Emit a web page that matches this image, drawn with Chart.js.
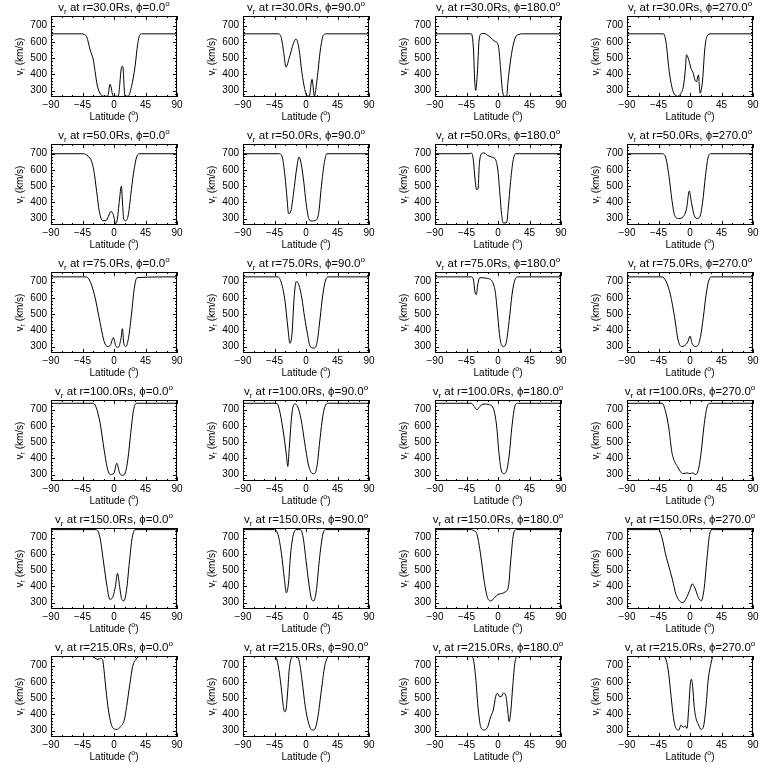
<!DOCTYPE html>
<html>
<head>
<meta charset="utf-8">
<script src="https://cdn.jsdelivr.net/npm/chart.js@4/dist/chart.umd.min.js"></script>
<style>
  body { margin: 0; background: #fff; }
  #grid { position: relative; width: 768px; height: 768px; }
  .cell { position: absolute; width: 192px; height: 128px; }
</style>
</head>
<body>
<div id="grid"></div>
<script>
const radii = [30, 50, 75, 100, 150, 215];
const phis = [0, 90, 180, 270];
const latTicks = [-90, -45, 0, 45, 90];
const vTicks = [300, 400, 500, 600, 700];

// [latitude, v_r] pairs
const r30_p0 = [[-90,650],[-46,650],[-42,645],[-39,632],[-34,550],[-29.5,488],[-27,416],[-24,334],[-20,283],[-15,265],[-9,265],[-5.7,338],[-1,265],[6,265],[11,447],[12.4,450],[15.7,265],[20,265],[25,324],[30,447],[34,591],[37,645],[41,650],[90,650]];
const r30_p90 = [[-90,650],[-39,650],[-35,620],[-32,540],[-28.6,445],[-24,500],[-18,590],[-14.3,618],[-10.5,570],[-5.7,406],[-2,313],[1.4,266],[4.7,266],[8.6,369],[12,266],[15.7,365],[20.5,550],[25,643],[30,650],[90,650]];
const r30_p180 = [[-90,650],[-38,650],[-35,550],[-33.3,365],[-32,300],[-29.5,406],[-27,612],[-24,650],[-20,652],[-15,643],[-8,616],[-3.4,601],[-1,595],[1.4,550],[3.8,427],[6,313],[8.6,265],[12.4,265],[14,344],[18,488],[22.8,601],[27.6,643],[37,650],[90,650]];
const r30_p270 = [[-90,650],[-38,650],[-34,591],[-30.5,447],[-27,344],[-23,283],[-17.6,265],[-13,283],[-9.5,324],[-6.7,427],[-5,520],[-2.4,499],[1.4,437],[4.7,406],[7,365],[9.5,355],[11,385],[12.4,396],[13,350],[14.7,283],[16,303],[18,365],[21,550],[24,632],[30,650],[90,650]];

const r50_p0 = [[-90,700],[-44,700],[-37,684],[-32,653],[-28.6,591],[-24.8,468],[-21,344],[-16,287],[-11.5,287],[-8,313],[-4.3,344],[-1,324],[2.4,268],[4.7,293],[7.6,406],[10.5,499],[12.4,380],[14,293],[17,287],[20.5,324],[24,447],[27.6,571],[32,674],[36,700],[90,700]];
const r50_p90 = [[-90,700],[-38,700],[-34,680],[-30,560],[-27,420],[-25,330],[-22,340],[-18,450],[-13,620],[-10,680],[-7,640],[-3,520],[0,400],[4,300],[8,285],[14,290],[18,330],[22,500],[26,640],[30,700],[90,700]];
const r50_p180 = [[-90,700],[-41.4,700],[-38,704],[-35,653],[-33,550],[-30.5,478],[-28.6,482],[-26.7,632],[-24,698],[-20,705],[-15,690],[-8,678],[-3.4,663],[0,591],[2.8,447],[5.2,324],[7.6,272],[12.4,276],[14.7,365],[18,530],[21.4,653],[25,700],[90,700]];
const r50_p270 = [[-90,700],[-40,700],[-35,680],[-30,560],[-26,420],[-22,320],[-16,300],[-10,310],[-5,360],[-1,470],[2,400],[6,320],[10,300],[14,310],[18,400],[22,560],[26,680],[30,700],[90,700]];

const r75_p0 = [[-90,730],[-40,730],[-35,710],[-28,620],[-20,450],[-14,330],[-9,300],[-5,310],[-1,355],[3,300],[6,295],[10,350],[12,410],[14,320],[17,300],[21,360],[25,500],[29,660],[33,725],[90,730]];
const r75_p90 = [[-90,730],[-40,730],[-35,690],[-30,580],[-26,420],[-23,320],[-20,380],[-17,600],[-14,700],[-11,690],[-6,600],[-2,480],[2,380],[6,300],[12,290],[16,330],[20,470],[24,620],[28,710],[32,730],[90,730]];
const r75_p180 = [[-90,730],[-38,730],[-35,710],[-33,640],[-31,620],[-29,680],[-26,725],[-15,720],[-8,700],[-4,640],[-1,520],[2,380],[5,310],[9,300],[12,330],[16,460],[20,620],[24,710],[28,730],[90,730]];
const r75_p270 = [[-90,730],[-40,730],[-34,700],[-28,620],[-22,480],[-17,340],[-12,300],[-8,305],[-3,330],[0,365],[3,320],[7,300],[11,305],[15,360],[19,480],[23,620],[27,710],[31,730],[90,730]];

const r100_p0 = [[-90,740],[-30,740],[-26,720],[-20,620],[-14,450],[-9,330],[-5,300],[0,310],[4,370],[8,310],[12,295],[16,310],[20,400],[24,560],[28,700],[32,740],[90,740]];
const r100_p90 = [[-90,740],[-42,740],[-38,700],[-33,580],[-28,420],[-26,350],[-24,460],[-20,680],[-16,735],[-12,720],[-7,640],[-2,500],[3,370],[8,310],[12,305],[16,360],[20,520],[24,660],[28,730],[32,740],[90,740]];
const r100_p180 = [[-90,740],[-38,740],[-34,720],[-30,700],[-26,720],[-20,735],[-12,730],[-6,700],[-2,600],[1,450],[4,340],[8,305],[12,320],[16,420],[20,600],[24,720],[28,740],[90,740]];
const r100_p270 = [[-90,740],[-40,740],[-35,690],[-30,580],[-26,440],[-22,380],[-18,350],[-14,320],[-10,305],[-4,310],[0,305],[4,310],[8,300],[12,330],[16,440],[20,600],[24,710],[28,740],[90,740]];

const r150_p0 = [[-90,750],[-25,750],[-20,700],[-15,550],[-10,400],[-6,320],[-2,330],[2,400],[5,480],[8,400],[11,320],[14,310],[18,380],[22,550],[26,700],[30,750],[90,750]];
const r150_p90 = [[-90,750],[-45,750],[-40,720],[-35,600],[-31,450],[-28,360],[-25,420],[-22,600],[-18,720],[-14,750],[-8,750],[-4,700],[0,560],[4,420],[8,320],[11,310],[15,380],[19,560],[24,720],[28,750],[90,750]];
const r150_p180 = [[-90,750],[-40,750],[-35,745],[-30,720],[-25,600],[-20,440],[-15,330],[-10,310],[-5,330],[0,350],[5,355],[10,365],[15,400],[18,550],[22,720],[26,750],[90,750]];
const r150_p270 = [[-90,750],[-45,750],[-40,700],[-35,600],[-30,520],[-25,440],[-20,350],[-15,310],[-10,300],[-5,330],[0,380],[3,415],[7,390],[12,330],[16,310],[20,380],[24,560],[28,720],[32,750],[90,750]];

const r215_p0 = [[-90,759],[-29.5,759],[-27,746],[-23,739],[-19,746],[-16,731],[-14.3,674],[-11.4,550],[-8,427],[-4.3,344],[-1,313],[3.8,307],[9.5,324],[14.7,365],[18,447],[22.8,591],[26.6,694],[31.4,739],[37,759],[90,759]];
const r215_p90 = [[-90,759],[-46,759],[-41.4,735],[-38,653],[-35,550],[-33,468],[-30.5,416],[-28.6,427],[-26,550],[-24,674],[-21,746],[-17.6,759],[-13,757],[-9.5,725],[-5.7,612],[-1,447],[3.8,344],[8.6,303],[12.4,307],[17,385],[22,550],[26.6,694],[32,756],[36,759],[90,759]];
const r215_p180 = [[-90,759],[-38,759],[-35,735],[-32,632],[-28.6,447],[-24.8,324],[-20,303],[-15,320],[-10.5,385],[-6.7,427],[-3.4,509],[-1,530],[2.4,509],[4.7,509],[7.6,530],[11,519],[13.3,447],[16,355],[18,406],[21.4,591],[24,715],[27.6,759],[90,759]];
const r215_p270 = [[-90,759],[-38,759],[-34,735],[-30.5,653],[-27,509],[-23.8,385],[-20,313],[-16,303],[-13,334],[-9.5,320],[-6.7,328],[-4.3,313],[-2,427],[0.5,591],[2,616],[3.8,571],[6,447],[8.6,375],[12.4,334],[15.7,307],[19,320],[22.8,447],[26,612],[30,715],[33,756],[37,759],[90,759]];

const panels = [
  [r30_p0, r30_p90, r30_p180, r30_p270],
  [r50_p0, r50_p90, r50_p180, r50_p270],
  [r75_p0, r75_p90, r75_p180, r75_p270],
  [r100_p0, r100_p90, r100_p180, r100_p270],
  [r150_p0, r150_p90, r150_p180, r150_p270],
  [r215_p0, r215_p90, r215_p180, r215_p270]
];

const FONT = '"Liberation Sans", "DejaVu Sans", sans-serif';

// draw a run of text pieces (normal / sub / sup), centred on cx
function drawRich(ctx, parts, cx, cy, size) {
  const small = Math.round(size * 0.7);
  let w = 0;
  parts.forEach(p => {
    ctx.font = `${p.s ? small : size}px ${FONT}`;
    p.w = ctx.measureText(p.t).width;
    w += p.w;
  });
  let x = cx - w / 2;
  parts.forEach(p => {
    ctx.font = `${p.s ? small : size}px ${FONT}`;
    const dy = p.s === 'sub' ? size * 0.3 : p.s === 'sup' ? -size * 0.4 : 0;
    ctx.fillText(p.t, x, cy + dy);
    x += p.w;
  });
}

// IDL style frame: box, inward ticks on all four sides, labels
const idlFrame = {
  id: 'idlFrame',
  afterDraw(chart, args, opts) {
    const { ctx, chartArea: a, scales: { x, y } } = chart;
    ctx.save();
    ctx.strokeStyle = '#000';
    ctx.fillStyle = '#000';
    ctx.lineWidth = 1;
    ctx.strokeRect(a.left + 0.5, a.top + 0.5, a.right - a.left - 1, a.bottom - a.top - 1);

    ctx.beginPath();
    for (let v = -90; v <= 90; v += 15) {
      const px = Math.round(x.getPixelForValue(v)) + 0.5;
      const len = latTicks.includes(v) ? 4 : 2;
      ctx.moveTo(px, a.bottom); ctx.lineTo(px, a.bottom - len);
      ctx.moveTo(px, a.top); ctx.lineTo(px, a.top + len);
    }
    for (let v = 280; v <= 760; v += 20) {
      const py = Math.round(y.getPixelForValue(v)) + 0.5;
      const len = vTicks.includes(v) ? 4 : 2;
      ctx.moveTo(a.left, py); ctx.lineTo(a.left + len, py);
      ctx.moveTo(a.right, py); ctx.lineTo(a.right - len, py);
    }
    ctx.stroke();

    ctx.font = `10px ${FONT}`;
    ctx.textBaseline = 'middle';
    ctx.textAlign = 'center';
    latTicks.forEach(v => ctx.fillText(String(v).replace('-', '\u2212'), x.getPixelForValue(v), a.bottom + 8));
    ctx.textAlign = 'right';
    vTicks.forEach(v => ctx.fillText(String(v), a.left - 4, y.getPixelForValue(v)));

    ctx.textAlign = 'left';
    const cx = (a.left + a.right) / 2;
    drawRich(ctx, [{ t: 'v' }, { t: 'r', s: 'sub' }, { t: ' at r=' + opts.r.toFixed(1) + 'Rs, \u03d5=' + opts.phi.toFixed(1) }, { t: 'o', s: 'sup' }], cx, 8, 11.5);
    drawRich(ctx, [{ t: 'Latitude (' }, { t: 'o', s: 'sup' }, { t: ')' }], cx, a.bottom + 20, 10);

    ctx.translate(20, (a.top + a.bottom) / 2);
    ctx.rotate(-Math.PI / 2);
    drawRich(ctx, [{ t: 'v' }, { t: 'r', s: 'sub' }, { t: ' (km/s)' }], 0, 0, 10);
    ctx.restore();
  }
};

const grid = document.getElementById('grid');
radii.forEach((r, row) => {
  phis.forEach((phi, col) => {
    const cell = document.createElement('div');
    cell.className = 'cell';
    cell.style.left = (col * 192) + 'px';
    cell.style.top = (row * 128) + 'px';
    const canvas = document.createElement('canvas');
    canvas.width = 192;
    canvas.height = 128;
    cell.appendChild(canvas);
    grid.appendChild(cell);

    new Chart(canvas.getContext('2d'), {
      type: 'line',
      data: {
        datasets: [{
          data: panels[row][col].map(p => ({ x: p[0], y: p[1] })),
          borderColor: '#000',
          borderWidth: 1,
          pointRadius: 0,
          fill: false,
          cubicInterpolationMode: 'monotone'
        }]
      },
      options: {
        responsive: false,
        animation: false,
        devicePixelRatio: 1,
        layout: { padding: { left: 51, right: 15, top: 16, bottom: 31 } },
        plugins: { legend: { display: false }, tooltip: { enabled: false }, idlFrame: { r: r, phi: phi } },
        scales: {
          x: { type: 'linear', min: -90, max: 90, display: false },
          y: { type: 'linear', min: 260, max: 760, display: false }
        }
      },
      plugins: [idlFrame]
    });
  });
});
</script>
</body>
</html>
